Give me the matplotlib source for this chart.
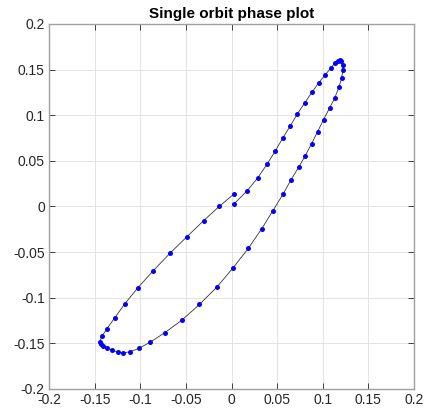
import matplotlib
matplotlib.use("Agg")
import matplotlib.pyplot as plt
import numpy as np

# orbit samples (x, y)
x_vals = [0.0026, 0.0168, 0.0285, 0.0387, 0.0479, 0.0563, 0.0643, 0.0720, 0.0800,
          0.0880, 0.0953, 0.1026, 0.1085, 0.1129, 0.1162, 0.1184, 0.1202, 0.1216,
          0.1220, 0.1205, 0.1176, 0.1132, 0.1074, 0.1008, 0.0942, 0.0877, 0.0807,
          0.0734, 0.0650, 0.0563, 0.0453, 0.0329, 0.0183, 0.0018, -0.0157, -0.0351,
          -0.0544, -0.0731, -0.0891, -0.1016, -0.1111, -0.1187, -0.1249, -0.1308,
          -0.1359, -0.1403, -0.1432, -0.1443, -0.1421, -0.1366, -0.1282, -0.1169,
          -0.1026, -0.0858, -0.0676, -0.0489, -0.0307, -0.0135, 0.0026]
y_vals = [0.0026, 0.0168, 0.0310, 0.0460, 0.0606, 0.0753, 0.0880, 0.1012, 0.1132,
          0.1249, 0.1352, 0.1443, 0.1512, 0.1567, 0.1593, 0.1600, 0.1589, 0.1553,
          0.1490, 0.1403, 0.1304, 0.1191, 0.1078, 0.0950, 0.0818, 0.0687, 0.0555,
          0.0427, 0.0289, 0.0132, -0.0047, -0.0248, -0.0460, -0.0672, -0.0880, -0.1074,
          -0.1246, -0.1384, -0.1487, -0.1556, -0.1593, -0.1604, -0.1596, -0.1574,
          -0.1552, -0.1530, -0.1512, -0.1483, -0.1425, -0.1341, -0.1224, -0.1067,
          -0.0891, -0.0705, -0.0515, -0.0332, -0.0157, 0.0000, 0.0135]

ticks = [-0.2, -0.15, -0.1, -0.05, 0, 0.05, 0.1, 0.15, 0.2]
tick_labels = ["-0.2", "-0.15", "-0.1", "-0.05", "0", "0.05", "0.1", "0.15", "0.2"]

plt.rcParams['font.family'] = ['Liberation Sans', 'DejaVu Sans']

fig = plt.figure(figsize=(4.26, 4.12), dpi=100)
ax = fig.add_axes([0.115, 0.056, 0.857, 0.886])

ax.plot(x_vals, y_vals, color='#333333', linewidth=0.6, zorder=2)
ax.plot(x_vals, y_vals, linestyle='none', marker='o', markersize=3.6,
        color='#0000ff', markeredgewidth=0, zorder=3)

ax.set_xlim(-0.2, 0.2)
ax.set_ylim(-0.2, 0.2)
ax.set_xticks(ticks)
ax.set_xticklabels(tick_labels)
ax.set_yticks(ticks)
ax.set_yticklabels(tick_labels)
ax.grid(True, color='#e3e3e3', linewidth=0.7)
ax.set_axisbelow(True)
ax.tick_params(direction='in', length=4, width=0.6, colors='#262626',
               labelsize=10, top=True, right=True, pad=3)
for sp in ax.spines.values():
    sp.set_color('#a0a0a0')
    sp.set_linewidth(1.0)

ax.set_title('Single orbit phase plot', fontsize=11, fontweight='bold', pad=4)

fig.savefig('out.png', dpi=100)
